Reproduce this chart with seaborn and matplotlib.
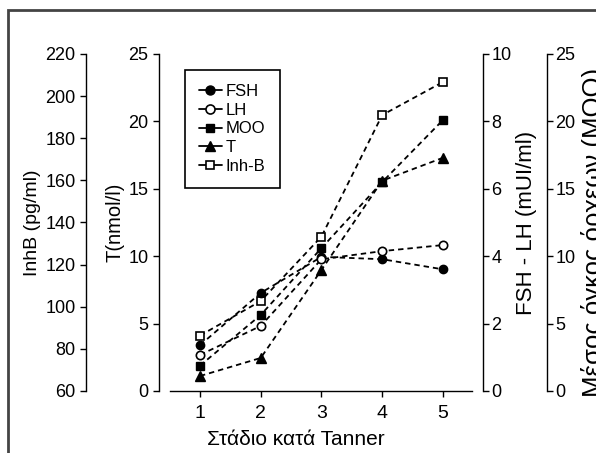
import matplotlib
matplotlib.use('Agg')
import matplotlib.pyplot as plt
from matplotlib.lines import Line2D
from matplotlib.patches import Rectangle
import seaborn as sns

sns.set_style('ticks')
plt.rcParams['font.family'] = ['Liberation Sans', 'DejaVu Sans']
plt.rcParams.update({'text.color': 'black', 'axes.labelcolor': 'black',
                     'xtick.color': 'black', 'ytick.color': 'black'})

# Data (Tanner stage 1-5)
stages = [1, 2, 3, 4, 5]
fsh = [1.36, 2.91, 3.98, 3.91, 3.61]       # mUI/ml, right inner axis
lh = [1.07, 1.93, 3.91, 4.15, 4.33]        # mUI/ml, right inner axis
moo = [1.88, 5.64, 10.6, 15.5, 20.1]       # mean testis volume, right outer axis
testo = [1.11, 2.45, 8.98, 15.6, 17.3]     # T nmol/l, left inner axis
inhb = [86.3, 102.7, 133.3, 191.0, 206.7]  # pg/ml, left outer axis

t_ticks = [0, 5, 10, 15, 20, 25]
inhb_ticks = [60, 80, 100, 120, 140, 160, 180, 200, 220]
fsh_ticks = [0, 2, 4, 6, 8, 10]
moo_ticks = [0, 5, 10, 15, 20, 25]

fig = plt.figure(figsize=(5.96, 4.53), dpi=100)
ax = fig.add_axes([0.2668, 0.1369, 0.5436, 0.7439])
ax_inh = ax.twinx()
ax_fsh = ax.twinx()
ax_moo = ax.twinx()

dash = (0, (3, 2.2))
common = dict(color='black', lw=1.3, linestyle=dash, legend=False)

sns.lineplot(x=stages, y=testo, ax=ax, marker='^', markersize=7,
             markerfacecolor='black', markeredgecolor='black', markeredgewidth=1, **common)
sns.lineplot(x=stages, y=inhb, ax=ax_inh, marker='s', markersize=5.5,
             markerfacecolor='white', markeredgecolor='black', markeredgewidth=1.2, **common)
sns.lineplot(x=stages, y=fsh, ax=ax_fsh, marker='o', markersize=6,
             markerfacecolor='black', markeredgecolor='black', markeredgewidth=1, **common)
sns.lineplot(x=stages, y=lh, ax=ax_fsh, marker='o', markersize=6,
             markerfacecolor='white', markeredgecolor='black', markeredgewidth=1.2, **common)
sns.lineplot(x=stages, y=moo, ax=ax_moo, marker='s', markersize=5.5,
             markerfacecolor='black', markeredgecolor='black', markeredgewidth=1, **common)

for a in (ax, ax_inh, ax_fsh, ax_moo):
    for s in a.spines.values():
        s.set_visible(False)
        s.set_linewidth(1)
        s.set_color('black')
    a.set_xlim(0.325, 5.66)
    a.tick_params(direction='out', length=4, width=1, color='black', labelsize=13)

# x axis
ax.spines['bottom'].set_visible(True)
ax.spines['bottom'].set_bounds(0.5, 5.48)
ax.set_xticks(stages)
ax.tick_params(axis='x', labelsize=14, pad=6)
ax.set_xlabel('Στάδιο κατά Tanner', fontsize=15)
ax.xaxis.set_label_coords(0.423, -0.115)

# T axis
ax.spines['left'].set_visible(True)
ax.set_ylim(0, 25)
ax.set_yticks(t_ticks)
ax.set_ylabel('T(nmol/l)', fontsize=14.5, labelpad=3)

# InhB axis
ax_inh.yaxis.tick_left()
ax_inh.yaxis.set_label_position('left')
ax_inh.spines['left'].set_visible(True)
ax_inh.spines['left'].set_position(('axes', -0.2253))
ax_inh.set_ylim(60, 220)
ax_inh.set_yticks(inhb_ticks)
ax_inh.set_ylabel('InhB (pg/ml)', fontsize=14, labelpad=3)

# FSH - LH axis
ax_fsh.spines['right'].set_visible(True)
ax_fsh.set_ylim(0, 10)
ax_fsh.set_yticks(fsh_ticks)
ax_fsh.tick_params(axis='y', pad=2)
ax_fsh.set_ylabel('FSH - LH (mUI/ml)', fontsize=16, labelpad=3)

# MOO axis
ax_moo.spines['right'].set_visible(True)
ax_moo.spines['right'].set_position(('axes', 1.1975))
ax_moo.set_ylim(0, 25)
ax_moo.set_yticks(moo_ticks)
ax_moo.tick_params(axis='y', pad=2)
ax_moo.set_ylabel('Μέσος όγκος όρχεων (MOO)', fontsize=18.5, labelpad=4)
ax_moo.yaxis.label.set_y(0.47)

for a in (ax_inh, ax_fsh, ax_moo):
    a.tick_params(axis='x', which='both', bottom=False, top=False,
                  labelbottom=False, labeltop=False)

handles = [
    Line2D([], [], color='black', lw=1.3, marker='o', ms=6.5, mfc='black', mec='black'),
    Line2D([], [], color='black', lw=1.3, marker='o', ms=6.5, mfc='white', mec='black', mew=1.2),
    Line2D([], [], color='black', lw=1.3, marker='s', ms=6, mfc='black', mec='black'),
    Line2D([], [], color='black', lw=1.3, marker='^', ms=7, mfc='black', mec='black'),
    Line2D([], [], color='black', lw=1.3, marker='s', ms=6, mfc='white', mec='black', mew=1.2),
]
leg = ax_moo.legend(handles, ['FSH', 'LH', 'MOO', 'T', 'Inh-B'],
                    loc='upper left', bbox_to_anchor=(0.08, 0.953), borderaxespad=0,
                    fontsize=12, frameon=True, fancybox=False, edgecolor='black',
                    framealpha=1, handlelength=1.35, handletextpad=0.25,
                    labelspacing=0.22, borderpad=0.85)
leg.get_frame().set_linewidth(1.2)

# outer frame of the original figure panel
fig.patches.append(Rectangle((8 / 596, -0.1), 1.2, 1.1 - 10 / 453,
                             transform=fig.transFigure, fill=False,
                             edgecolor='#444444', lw=2))

fig.savefig('out.png', dpi=100)
